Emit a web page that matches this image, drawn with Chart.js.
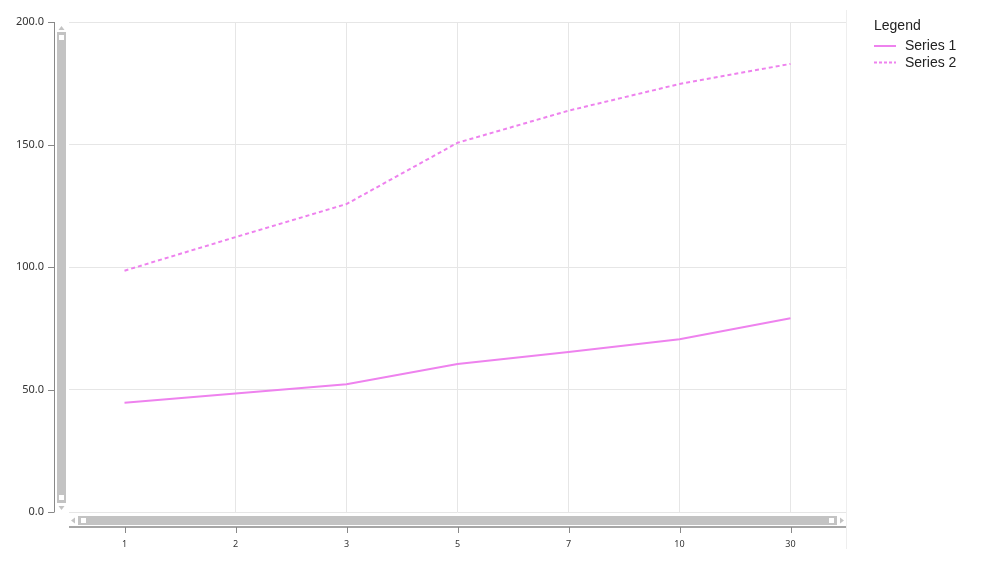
<!DOCTYPE html>
<html>
<head>
<meta charset="utf-8">
<script src="https://cdn.jsdelivr.net/npm/chart.js@4.4.0/dist/chart.umd.min.js"></script>
<style>
  html, body { margin: 0; padding: 0; background: #fff; }
  #wrap { position: relative; width: 987px; height: 575px; }
  canvas { position: absolute; left: 0; top: 0; }
  #legend { position: absolute; left: 874px; top: 15px; font-family: "Liberation Sans", Arial, sans-serif; font-size: 14px; color: #222; }
  #legend .title { height: 20px; line-height: 20px; margin-bottom: 2px; }
  #legend .item { position: relative; height: 17px; line-height: 17px; padding-left: 31px; }
  #legend .sw { position: absolute; left: 0; top: 8px; width: 22px; height: 0; border-top: 2px solid violet; }
</style>
</head>
<body>
<div id="wrap">
  <canvas id="c" width="987" height="575"></canvas>
  <div id="legend">
    <div class="title">Legend</div>
    <div class="item"><span class="sw"></span>Series 1</div>
    <div class="item"><span class="sw" id="sw2"></span>Series 2</div>
  </div>
</div>
<script>
const categories = ["1", "2", "3", "5", "7", "10", "30"];
const series1 = [44.6, 48.4, 52.1, 60.4, 65.3, 70.5, 79.1];
const series2 = [98.5, 112.2, 125.7, 150.7, 163.8, 174.7, 182.9];
const seriesNames = ["Series 1", "Series 2"];
const yTicks = [0, 50, 100, 150, 200];

// dashed legend swatch drawn as an inline svg for exact dashes
document.getElementById('sw2').style.borderTop = 'none';
document.getElementById('sw2').innerHTML = '<svg width="22" height="3" style="position:absolute;left:0;top:-1px"><line x1="0" y1="1.5" x2="22" y2="1.5" stroke="violet" stroke-width="2" stroke-dasharray="3,2"/></svg>';

const deco = {
  id: 'deco',
  afterDraw(chart) {
    const ctx = chart.ctx;
    const a = chart.chartArea;
    const ys = chart.scales.y, xs = chart.scales.x;
    ctx.save();
    // right edge line
    ctx.strokeStyle = '#eeeeee';
    ctx.lineWidth = 1;
    ctx.beginPath(); ctx.moveTo(a.right + 0.5, 10); ctx.lineTo(a.right + 0.5, a.bottom + 37); ctx.stroke();
    // y axis line and ticks
    ctx.strokeStyle = '#888888';
    ctx.beginPath(); ctx.moveTo(a.left - 14.5, a.top); ctx.lineTo(a.left - 14.5, a.bottom); ctx.stroke();
    yTicks.forEach(v => {
      const y = Math.round(ys.getPixelForValue(v)) + 0.5;
      ctx.beginPath(); ctx.moveTo(a.left - 21, y); ctx.lineTo(a.left - 14.5, y); ctx.stroke();
    });
    // x axis line and ticks
    ctx.lineWidth = 1.5;
    ctx.beginPath(); ctx.moveTo(a.left, a.bottom + 15); ctx.lineTo(a.right, a.bottom + 15); ctx.stroke();
    ctx.lineWidth = 1;
    categories.forEach((c, i) => {
      const x = Math.round(xs.getPixelForValue(i)) + 0.5;
      ctx.beginPath(); ctx.moveTo(x, a.bottom + 15); ctx.lineTo(x, a.bottom + 21); ctx.stroke();
    });
    // vertical scrollbar
    ctx.fillStyle = '#c3c3c3';
    const vx = a.left - 12;
    ctx.fillRect(vx, a.top + 10, 9, a.bottom - a.top - 19);
    ctx.beginPath(); ctx.moveTo(vx + 1.5, a.top + 8); ctx.lineTo(vx + 7.5, a.top + 8); ctx.lineTo(vx + 4.5, a.top + 4); ctx.closePath(); ctx.fill();
    ctx.beginPath(); ctx.moveTo(vx + 1.5, a.bottom - 6); ctx.lineTo(vx + 7.5, a.bottom - 6); ctx.lineTo(vx + 4.5, a.bottom - 2); ctx.closePath(); ctx.fill();
    ctx.fillStyle = '#ffffff';
    ctx.fillRect(vx + 2, a.top + 13, 5, 5);
    ctx.fillRect(vx + 2, a.bottom - 17, 5, 5);
    // horizontal scrollbar
    ctx.fillStyle = '#c3c3c3';
    const hy = a.bottom + 4;
    ctx.fillRect(a.left + 9, hy, a.right - a.left - 18, 9);
    ctx.beginPath(); ctx.moveTo(a.left + 6, hy + 1.5); ctx.lineTo(a.left + 6, hy + 7.5); ctx.lineTo(a.left + 2, hy + 4.5); ctx.closePath(); ctx.fill();
    ctx.beginPath(); ctx.moveTo(a.right - 6, hy + 1.5); ctx.lineTo(a.right - 6, hy + 7.5); ctx.lineTo(a.right - 2, hy + 4.5); ctx.closePath(); ctx.fill();
    ctx.fillStyle = '#ffffff';
    ctx.fillRect(a.left + 12, hy + 2, 5, 5);
    ctx.fillRect(a.right - 17, hy + 2, 5, 5);
    ctx.restore();
  }
};

new Chart(document.getElementById('c'), {
  type: 'line',
  data: {
    labels: categories,
    datasets: [
      { label: seriesNames[0], data: series1, borderColor: 'violet', borderWidth: 2, pointRadius: 0, tension: 0, fill: false },
      { label: seriesNames[1], data: series2, borderColor: 'violet', borderWidth: 2, borderDash: [4, 3], pointRadius: 0, tension: 0, fill: false }
    ]
  },
  options: {
    responsive: false,
    animation: false,
    devicePixelRatio: 1,
    layout: { padding: { left: 0, top: 22, right: 141, bottom: 0 } },
    plugins: { legend: { display: false }, tooltip: { enabled: false } },
    scales: {
      x: {
        offset: true,
        grid: { color: c => c.index === 0 ? 'rgba(0,0,0,0)' : '#e6e6e6', drawTicks: false },
        border: { display: false },
        ticks: { padding: 27, color: '#333', font: { family: 'Noto Sans', size: 9 }, maxRotation: 0 },
        afterFit: s => { s.height = 63; s.paddingLeft = 0; s.paddingRight = 0; }
      },
      y: {
        min: 0, max: 200,
        afterBuildTicks: s => { s.ticks = yTicks.map(v => ({ value: v })); },
        grid: { color: '#e6e6e6', drawTicks: false },
        border: { display: false },
        ticks: { padding: 25, color: '#333', font: { family: 'Noto Sans', size: 11 }, callback: v => Number(v).toFixed(1) },
        afterFit: s => { s.width = 69; s.paddingTop = 0; s.paddingBottom = 0; }
      }
    }
  },
  plugins: [deco]
});
</script>
</body>
</html>
